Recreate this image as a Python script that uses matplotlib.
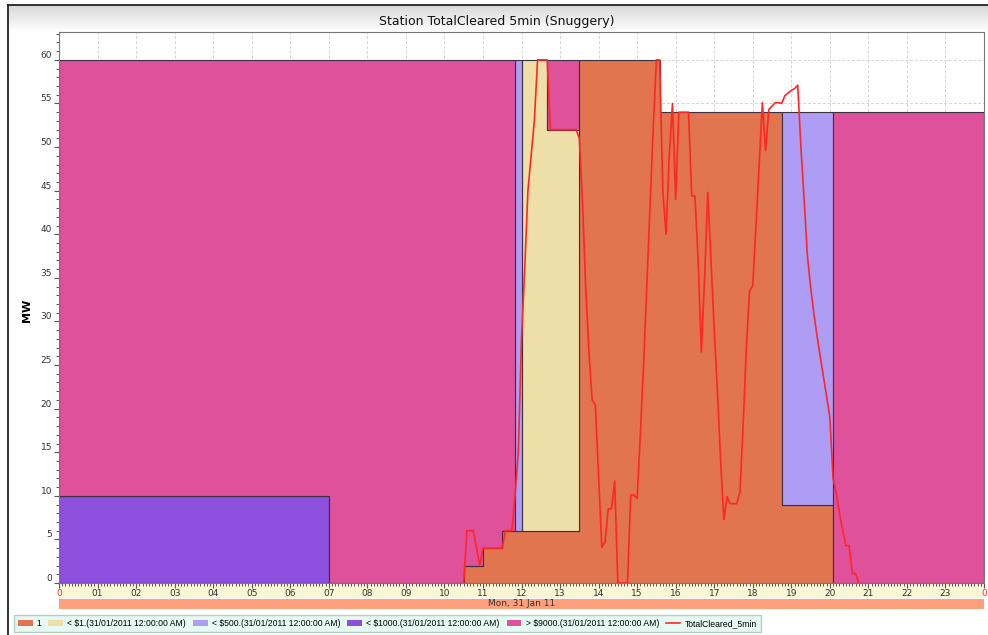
import numpy as np
import matplotlib.pyplot as plt
import matplotlib.transforms as mtransforms
from matplotlib.patches import Rectangle, Patch
from matplotlib.lines import Line2D
from matplotlib.colors import LinearSegmentedColormap
from matplotlib.ticker import MultipleLocator

# offer blocks: start hour of each block, MW offered in each price band
block_start = [0.0, 7.0, 10.5, 11.0, 11.5, 11 + 50 / 60, 12.0, 12 + 40 / 60,
               13.5, 15 + 35 / 60, 18.75, 20 + 5 / 60]
block_end = 24.0
band_1 = [0, 0, 2, 4, 6, 6, 6, 6, 60, 54, 9, 0]
band_lt1 = [0, 0, 0, 0, 0, 0, 54, 46, 0, 0, 0, 0]
band_lt500 = [0, 0, 0, 0, 0, 54, 0, 0, 0, 0, 45, 0]
band_lt1000 = [10, 0, 0, 0, 0, 0, 0, 0, 0, 0, 0, 0]
band_gt9000 = [50, 60, 58, 56, 54, 0, 0, 8, 0, 0, 0, 54]

band_names = ['1', '< $1.(31/01/2011 12:00:00 AM)', '< $500.(31/01/2011 12:00:00 AM)',
              '< $1000.(31/01/2011 12:00:00 AM)', '> $9000.(31/01/2011 12:00:00 AM)']
band_colors = ['#e07550', '#eedfa8', '#ae9df5', '#8c4fde', '#df519b']

# 5 minute cleared MW, starting 10:30
cleared_start = 10.5
cleared = [0, 6, 6, 6, 4, 2, 4, 4, 4, 4, 4, 4, 4, 6, 6, 6,
           10, 15, 28, 36, 45, 49, 53, 60, 60, 60, 60,
           52, 52, 52, 52, 52, 52, 52, 52, 52,
           51, 43.6, 33.7, 26.5, 21, 20.4, 12.3, 4.1, 4.7, 8.5, 8.5, 11.7,
           0, 0, 0, 0, 10.1, 10.1, 9.7, 17, 25, 34, 43, 52, 60, 60,
           45, 40, 49, 55, 44, 54, 54, 54, 54, 44.4, 44.4, 37, 26.5, 35, 44.8,
           37, 29, 22, 14, 7.3, 9.9, 9.1, 9.1, 9.1, 10.4, 18, 27, 33.5, 34.1,
           41, 48, 55.1, 49.6, 54.3, 54.7, 55.1, 55.1, 55, 55.9, 56.2, 56.5,
           56.7, 57.1, 50, 44, 37.6, 34, 31, 28.4, 26, 23.7, 21.4, 19,
           12, 10.3, 8, 6, 4.3, 4.3, 1.1, 1.1, 0]

hour_labels = ['0'] + ['%02d' % h for h in range(1, 24)] + ['0']
day_label = 'Mon, 31 Jan 11'

W, H = 988, 635
fig = plt.figure(figsize=(W / 100, H / 100), dpi=100)

# grey header gradient and frame
hdr = fig.add_axes([8 / W, 1 - 32 / H, 1 - 8 / W, 27 / H], zorder=-2)
hdr.imshow(np.linspace(0, 1, 60).reshape(-1, 1), aspect='auto',
           cmap=LinearSegmentedColormap.from_list('hdr', ['#d8d8d8', '#ffffff']))
hdr.axis('off')
fig.add_artist(Line2D([8 / W, 8 / W], [0, 1 - 5 / H], transform=fig.transFigure,
                      color='#222222', lw=1.3))
fig.add_artist(Line2D([8 / W, 1], [1 - 5 / H, 1 - 5 / H], transform=fig.transFigure,
                      color='#222222', lw=1.3))

ax = fig.add_axes([59 / W, 52 / H, 925 / W, 551 / H])

edges = np.array(block_start + [block_end])
base = np.zeros(len(block_start))
for vals, color in zip([band_1, band_lt1, band_lt500, band_lt1000, band_gt9000], band_colors):
    vals = np.array(vals, dtype=float)
    top = base + vals
    ax.stairs(np.where(vals > 0, top, np.nan), edges, baseline=base, fill=True,
              facecolor=color, edgecolor='#3a3040', linewidth=0.8, zorder=2)
    base = top

t = cleared_start + np.arange(len(cleared)) * 5 / 60
ax.plot(t, cleared, color='#ff2626', lw=1.2, zorder=3)

ax.set_xlim(0, 24)
ax.set_ylim(0, 63.2)
ax.set_xticks(range(25))
ax.set_xticklabels(hour_labels)
ax.xaxis.set_minor_locator(MultipleLocator(5 / 60))
ax.set_yticks(range(0, 61, 5))
ax.yaxis.set_minor_locator(MultipleLocator(1))
ax.tick_params(axis='both', which='major', length=3.5, width=0.8, color='#555555',
               labelsize=6.5, labelcolor='#333333')
ax.tick_params(axis='both', which='minor', length=2, width=0.7, color='#555555')
ax.tick_params(axis='x', pad=1)
ax.tick_params(axis='y', pad=1.5)
for lbl in ax.get_yticklabels():
    lbl.set_verticalalignment('bottom')
xl = ax.get_xticklabels()
xl[0].set_color('#ff3030')
xl[-1].set_color('#ff3030')

ax.grid(True, color='#d4d4d4', ls=(0, (3, 2)), lw=0.7, zorder=0)
ax.set_axisbelow(True)
for s in ax.spines.values():
    s.set_color('#777777')
    s.set_linewidth(0.8)

# time axis strips
fig.add_artist(Rectangle((59 / W, 37 / H), 925 / W, 15 / H, transform=fig.transFigure,
                         facecolor='#f9f6d6', edgecolor='none', zorder=-1))
fig.add_artist(Rectangle((59 / W, 26 / H), 925 / W, 10 / H, transform=fig.transFigure,
                         facecolor='#ffa07c', edgecolor='none', zorder=-1))
tr = mtransforms.blended_transform_factory(ax.transData, fig.transFigure)
ax.text(12, 31 / H, day_label, transform=tr, ha='center', va='center',
        fontsize=6.5, color='#333333', clip_on=False)

fig.text(497 / W, 1 - 22 / H, 'Station TotalCleared 5min (Snuggery)',
         ha='center', va='center', fontsize=9, color='#111111')
fig.text(27 / W, 1 - 310 / H, 'MW', rotation=90, ha='center', va='center',
         fontsize=8, fontweight='bold')

handles = [Patch(facecolor=c, edgecolor='none') for c in band_colors]
handles.append(Line2D([], [], color='#ff2626', lw=1.2))
fig.legend(handles, band_names + ['TotalCleared_5min'], loc='lower left',
           bbox_to_anchor=(14 / W, 3 / H), ncol=6, frameon=True,
           prop={'family': 'Liberation Sans', 'size': 6.2},
           fancybox=False, facecolor='#e6faf3', edgecolor='#b8ccc4', framealpha=1,
           handlelength=1.7, handleheight=0.8, handletextpad=0.5,
           columnspacing=0.8, borderpad=0.45, borderaxespad=0)

fig.savefig('out.png', dpi=100)
